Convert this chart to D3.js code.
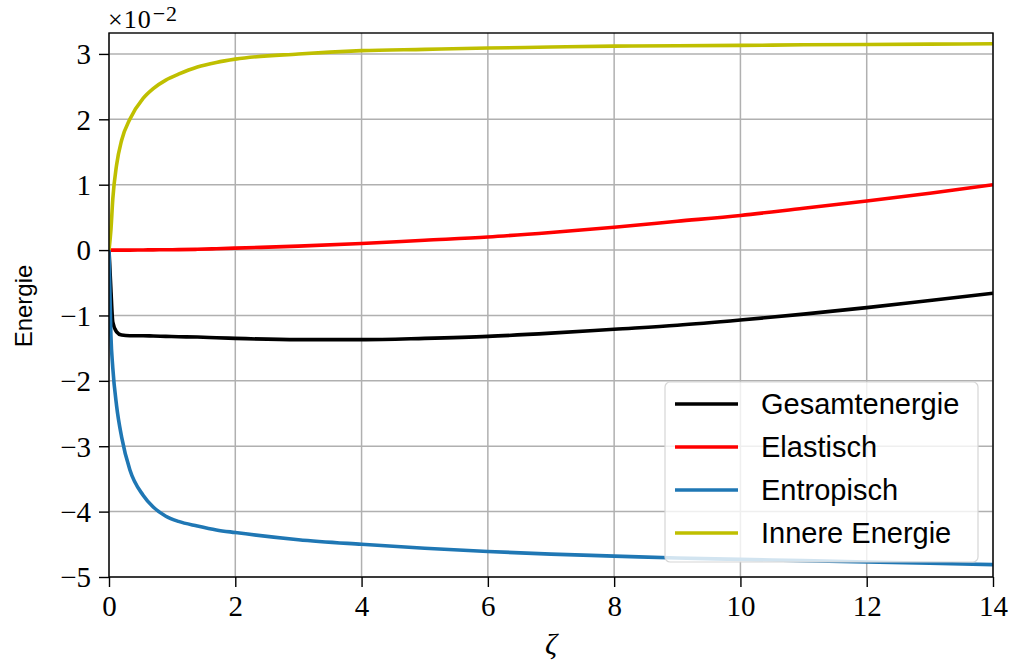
<!DOCTYPE html>
<html>
<head>
<meta charset="utf-8">
<script src="https://cdn.jsdelivr.net/npm/d3@7"></script>
<style>
  body { margin: 0; background: #fff; }
  .tick text { font-family: "Liberation Serif", serif; font-size: 29px; }
</style>
</head>
<body>
<div class="chart"></div>
<script>
var width = 1011
  , height = 666
  , margin = { left: 109, right: 18, top: 33, bottom: 89 }
  ;

// zeta samples (x axis)
var zeta = [0, 0.03, 0.06, 0.12, 0.2, 0.33, 0.54, 0.7, 0.9, 1.1, 1.4, 1.7, 2, 3, 4, 5, 6, 7, 8, 9, 10, 11, 12, 13, 14];

// energies, in units of 1e-2
var gesamt  = [0, -0.6, -1.1, -1.25, -1.3, -1.31, -1.31, -1.315, -1.32, -1.325, -1.33, -1.34, -1.35, -1.37, -1.37, -1.35, -1.32, -1.27, -1.21, -1.15, -1.07, -0.98, -0.88, -0.77, -0.66];
var elastic = [0, 0, 0, 0, 0, 0, 0.002, 0.003, 0.005, 0.007, 0.012, 0.02, 0.03, 0.06, 0.1, 0.15, 0.2, 0.27, 0.35, 0.44, 0.53, 0.64, 0.75, 0.87, 1.0];
var entrop  = [0, -1.3, -1.8, -2.38, -2.86, -3.36, -3.75, -3.93, -4.07, -4.15, -4.22, -4.28, -4.32, -4.43, -4.5, -4.56, -4.61, -4.65, -4.68, -4.71, -4.73, -4.75, -4.77, -4.79, -4.81];
var inner   = [0, 0.3, 0.78, 1.3, 1.68, 2.0, 2.32, 2.47, 2.6, 2.69, 2.8, 2.87, 2.92, 3.0, 3.05, 3.07, 3.09, 3.105, 3.12, 3.125, 3.13, 3.14, 3.145, 3.15, 3.155];

var seriesNames = ["Gesamtenergie", "Elastisch", "Entropisch", "Innere Energie"];
var seriesColors = ["#000000", "#ff0000", "#1f77b4", "#bfbf00"];
var seriesValues = [gesamt, elastic, entrop, inner];

var xTicks = [0, 2, 4, 6, 8, 10, 12, 14];
var yTicks = [-5, -4, -3, -2, -1, 0, 1, 2, 3];

var svg = d3.select(".chart").append("svg")
  .attr("width", width)
  .attr("height", height);

var x = d3.scaleLinear().domain([0, 14]).range([margin.left, width - margin.right]);
var y = d3.scaleLinear().domain([-5, 3.32]).range([height - margin.bottom, margin.top]);

// grid
var grid = svg.append("g");
grid.selectAll(".gx").data(xTicks).enter().append("line")
    .attr("x1", function(d) { return x(d); })
    .attr("x2", function(d) { return x(d); })
    .attr("y1", y.range()[0])
    .attr("y2", y.range()[1])
    .attr("stroke", "#b0b0b0")
    .attr("stroke-width", 1.5);
grid.selectAll(".gy").data(yTicks).enter().append("line")
    .attr("y1", function(d) { return y(d); })
    .attr("y2", function(d) { return y(d); })
    .attr("x1", x.range()[0])
    .attr("x2", x.range()[1])
    .attr("stroke", "#b0b0b0")
    .attr("stroke-width", 1.5);

// curves
var line = d3.line()
  .x(function(d) { return x(d[0]); })
  .y(function(d) { return y(d[1]); })
  .curve(d3.curveMonotoneX);

var plot = svg.append("g");
plot.append("clipPath").attr("id", "clip").append("rect")
    .attr("x", x.range()[0]).attr("y", y.range()[1])
    .attr("width", x.range()[1] - x.range()[0])
    .attr("height", y.range()[0] - y.range()[1]);

seriesValues.forEach(function(vals, i) {
  plot.append("path")
      .datum(zeta.map(function(z, j) { return [z, vals[j]]; }))
      .attr("fill", "none")
      .attr("stroke", seriesColors[i])
      .attr("stroke-width", 3.6)
      .attr("stroke-linejoin", "round")
      .attr("clip-path", "url(#clip)")
      .attr("d", line);
});

// axes
function fmt(d) { return d < 0 ? "\u2212" + Math.abs(d) : String(d); }

var xAxis = svg.append("g")
    .attr("transform", "translate(0," + y.range()[0] + ")")
    .call(d3.axisBottom(x).tickValues(xTicks).tickFormat(fmt).tickSize(10).tickPadding(8));
var yAxis = svg.append("g")
    .attr("transform", "translate(" + x.range()[0] + ",0)")
    .call(d3.axisLeft(y).tickValues(yTicks).tickFormat(fmt).tickSize(10).tickPadding(8));
[xAxis, yAxis].forEach(function(a) {
  a.select(".domain").remove();
  a.selectAll(".tick line").attr("stroke", "#000").attr("stroke-width", 1.4);
  a.selectAll(".tick text").attr("fill", "#000");
});
yAxis.selectAll(".tick text").attr("dy", "0.34em");

// frame
svg.append("rect")
    .attr("x", x.range()[0])
    .attr("y", y.range()[1])
    .attr("width", x.range()[1] - x.range()[0])
    .attr("height", y.range()[0] - y.range()[1])
    .attr("fill", "none")
    .attr("stroke", "#000")
    .attr("stroke-width", 1.4);

// offset text
var off = svg.append("text")
    .attr("x", x.range()[0] - 1)
    .attr("y", 28)
    .attr("font-family", "Liberation Serif, serif")
    .attr("letter-spacing", 1)
    .attr("font-size", 26);
off.append("tspan").text("\u00d710");
off.append("tspan").attr("font-size", 22).attr("dx", 1).attr("dy", -7).text("\u22122");

// axis labels
svg.append("text")
    .attr("x", (x.range()[0] + x.range()[1]) / 2)
    .attr("y", 654)
    .attr("text-anchor", "middle")
    .attr("font-family", "Liberation Serif, serif")
    .attr("font-style", "italic")
    .attr("font-size", 30)
    .text("\u03b6");

svg.append("text")
    .attr("transform", "translate(32,306)rotate(-90)")
    .attr("text-anchor", "middle")
    .attr("font-family", "Liberation Sans, Arial, sans-serif")
    .attr("font-size", 24)
    .text("Energie");

// legend
var lg = svg.append("g");
lg.append("rect")
    .attr("x", 665).attr("y", 382)
    .attr("width", 313).attr("height", 180)
    .attr("rx", 5).attr("ry", 5)
    .attr("fill", "#fff")
    .attr("fill-opacity", 0.8)
    .attr("stroke", "#d6d6d6")
    .attr("stroke-width", 1.2);

var rowY = d3.scaleLinear().domain([0, 3]).range([404, 533]);
seriesNames.forEach(function(name, i) {
  lg.append("line")
      .attr("x1", 675).attr("x2", 738)
      .attr("y1", rowY(i)).attr("y2", rowY(i))
      .attr("stroke", seriesColors[i])
      .attr("stroke-width", 3.6);
  lg.append("text")
      .attr("x", 761)
      .attr("y", rowY(i))
      .attr("dy", "0.36em")
      .attr("font-family", "Liberation Sans, Arial, sans-serif")
      .attr("font-size", 29)
      .text(name);
});
</script>
</body>
</html>
